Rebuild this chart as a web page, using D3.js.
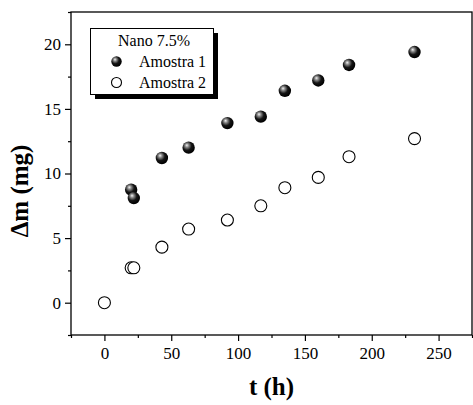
<!DOCTYPE html>
<html>
<head>
<meta charset="utf-8">
<script src="https://cdn.jsdelivr.net/npm/d3@7/dist/d3.min.js"></script>
<style>
  svg text { font-family: "Liberation Serif", Tinos, "Times New Roman", monospace !important; }
</style>
</head>
<body style="margin:0">
<svg id="chart" width="473" height="405" style="display:block;background:#fff;font-family:'Liberation Serif'"></svg>
<script>
// ---- data ----
const amostra1T = [20, 22, 43, 63, 92, 117, 135, 160, 183, 232];
const amostra1M = [8.75, 8.1, 11.2, 12.0, 13.9, 14.4, 16.4, 17.2, 18.4, 19.4];
const amostra2T = [0, 20, 22, 43, 63, 92, 117, 135, 160, 183, 232];
const amostra2M = [0, 2.7, 2.7, 4.3, 5.7, 6.4, 7.5, 8.9, 9.7, 11.3, 12.7];
const xTicks = [0, 50, 100, 150, 200, 250];
const xMinor = [-25, 25, 75, 125, 175, 225, 275];
const yTicks = [0, 5, 10, 15, 20];
const yMinor = [-2.5, 2.5, 7.5, 12.5, 17.5, 22.5];
const seriesNames = ["Amostra 1", "Amostra 2"];
const legendTitle = "Nano 7.5%";
const xLabel = "t (h)";
const yLabel = "\u0394m (mg)";

// ---- layout ----
const FONT = '"Liberation Serif", monospace';
const pLeft = 71, pRight = 472, pTop = 12, pBottom = 335;
const svg = d3.select("#chart");

const x = d3.scaleLinear().domain([-25, 275]).range([pLeft, pRight]);
const y = d3.scaleLinear().domain([-2.5, 22.5]).range([pBottom, pTop]);

function txt(sel) {
  return sel.attr("font-family", "Liberation Serif").style("font-family", FONT).attr("fill", "#000");
}

// gradient for spheres
const defs = svg.append("defs");
const grad = defs.append("radialGradient").attr("id", "sphere")
  .attr("cx", "40%").attr("cy", "38%").attr("r", "60%")
  .attr("fx", "35%").attr("fy", "30%");
grad.append("stop").attr("offset", "0%").attr("stop-color", "#f4f4f4");
grad.append("stop").attr("offset", "25%").attr("stop-color", "#8a8a8a");
grad.append("stop").attr("offset", "60%").attr("stop-color", "#151515");
grad.append("stop").attr("offset", "100%").attr("stop-color", "#000");

// frame
svg.append("rect").attr("x", pLeft).attr("y", pTop)
  .attr("width", pRight - pLeft).attr("height", pBottom - pTop)
  .attr("fill", "none").attr("stroke", "#000").attr("stroke-width", 1.3);

// axes
const xAxis = svg.append("g").attr("transform", `translate(0,${pBottom})`)
  .call(d3.axisBottom(x).tickValues(xTicks).tickSize(6).tickPadding(6).tickFormat(d3.format("d")));
const xAxisMinor = svg.append("g").attr("transform", `translate(0,${pBottom})`)
  .call(d3.axisBottom(x).tickValues(xMinor).tickSize(3).tickFormat(""));
const yAxis = svg.append("g").attr("transform", `translate(${pLeft},0)`)
  .call(d3.axisLeft(y).tickValues(yTicks).tickSize(6).tickPadding(4).tickFormat(d3.format("d")));
const yAxisMinor = svg.append("g").attr("transform", `translate(${pLeft},0)`)
  .call(d3.axisLeft(y).tickValues(yMinor).tickSize(3).tickFormat(""));

[xAxis, xAxisMinor, yAxis, yAxisMinor].forEach(g => {
  g.attr("font-family", null).attr("font-size", null);
  g.select(".domain").remove();
  g.selectAll("line").attr("stroke", "#000").attr("stroke-width", 1.2);
  txt(g.selectAll("text")).style("font-size", "17px");
});

// axis labels
txt(svg.append("text")).attr("x", (pLeft + pRight) / 2).attr("y", 395)
  .attr("text-anchor", "middle").style("font-weight", "bold").style("font-size", "25px")
  .text(xLabel);
txt(svg.append("text")).attr("transform", `translate(28,191) rotate(-90)`)
  .attr("text-anchor", "middle").style("font-weight", "bold").style("font-size", "25px")
  .text(yLabel);

// data
const data1 = amostra1T.map((t, i) => ({ t, m: amostra1M[i] }));
const data2 = amostra2T.map((t, i) => ({ t, m: amostra2M[i] }));

svg.append("g").selectAll("circle").data(data2).join("circle")
  .attr("cx", d => x(d.t)).attr("cy", d => y(d.m)).attr("r", 6)
  .attr("fill", "#fff").attr("stroke", "#000").attr("stroke-width", 1.1);

svg.append("g").selectAll("circle").data(data1).join("circle")
  .attr("cx", d => x(d.t)).attr("cy", d => y(d.m)).attr("r", 6.2)
  .attr("fill", "url(#sphere)");

// legend
const lg = svg.append("g");
const lx = 90.5, ly = 28.5, lw = 123, lh = 66;
lg.append("rect").attr("x", lx + 4.5).attr("y", ly + 4.5).attr("width", lw).attr("height", lh).attr("fill", "#000");
lg.append("rect").attr("x", lx).attr("y", ly).attr("width", lw).attr("height", lh)
  .attr("fill", "#fff").attr("stroke", "#000").attr("stroke-width", 1);
txt(lg.append("text")).attr("x", lx + lw / 2 + 2).attr("y", 46).attr("text-anchor", "middle")
  .style("font-size", "16px").text(legendTitle);
lg.append("circle").attr("cx", 116.5).attr("cy", 61.5).attr("r", 5.2).attr("fill", "url(#sphere)");
lg.append("circle").attr("cx", 116.5).attr("cy", 82.5).attr("r", 5).attr("fill", "#fff")
  .attr("stroke", "#000").attr("stroke-width", 1.1);
txt(lg.append("text")).attr("x", 139).attr("y", 67).style("font-size", "16px").text(seriesNames[0]);
txt(lg.append("text")).attr("x", 139).attr("y", 88).style("font-size", "16px").text(seriesNames[1]);
</script>
</body>
</html>
